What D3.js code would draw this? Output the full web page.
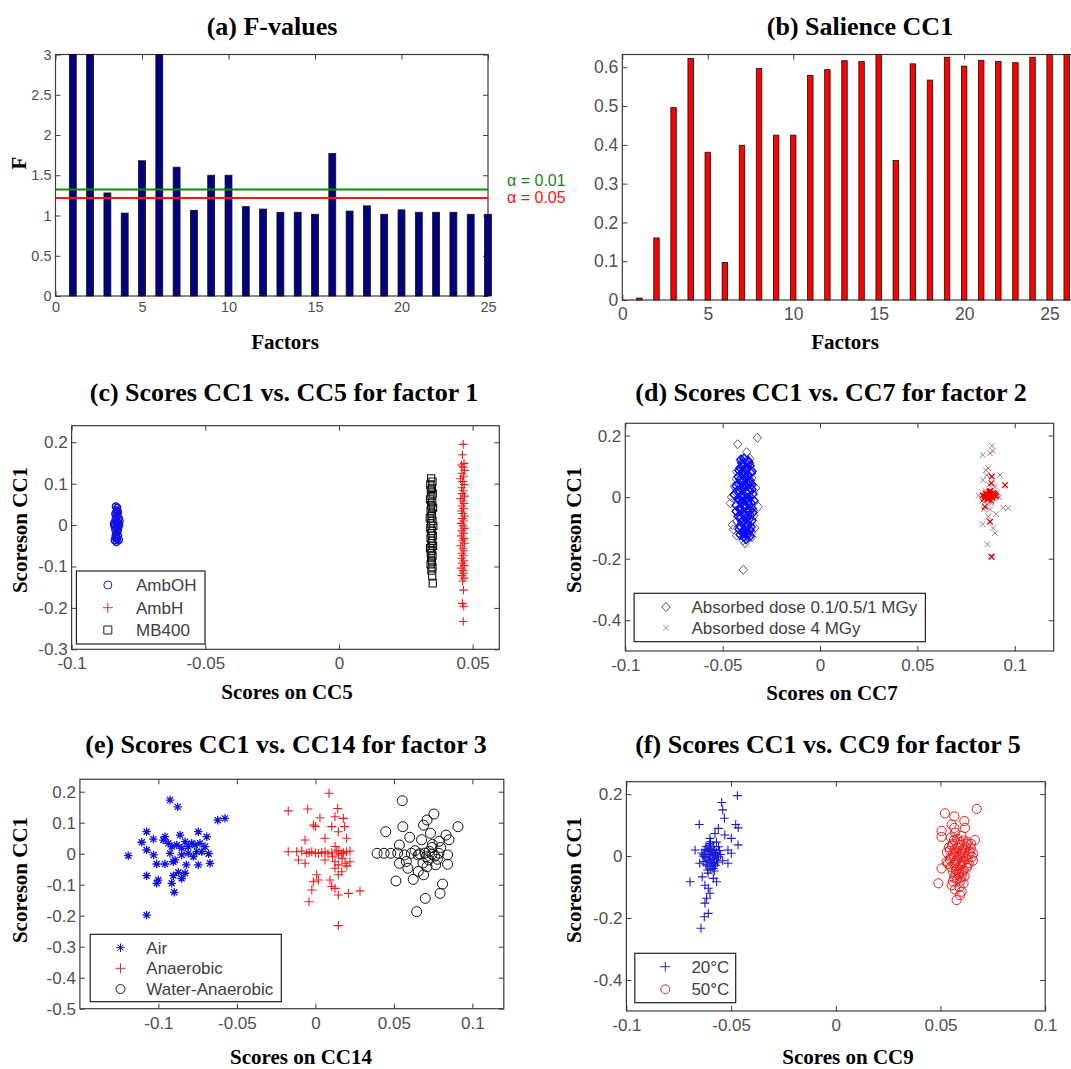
<!DOCTYPE html>
<html><head><meta charset="utf-8">
<script src="https://cdn.jsdelivr.net/npm/d3@7"></script>
<style>body{margin:0;background:#fff}svg{display:block}</style>
</head><body><svg id="c" width="1071" height="1069"></svg>
<script>
// ---------------- DATA ----------------
const factorsA = [1,2,3,4,5,6,7,8,9,10,11,12,13,14,15,16,17,18,19,20,21,22,23,24,25];
const fValues = [3.0,3.0,1.28,1.03,1.68,3.0,1.60,1.065,1.50,1.50,1.11,1.08,1.04,1.04,1.015,1.77,1.055,1.12,1.015,1.07,1.04,1.04,1.04,1.015,1.015];
const alphaLevels = [{label:"\u03b1 = 0.01", value:1.322, color:"#118811"},{label:"\u03b1 = 0.05", value:1.218, color:"#ff1010"}];
const factorsB = [1,2,3,4,5,6,7,8,9,10,11,12,13,14,15,16,17,18,19,20,21,22,23,24,25,26];
const salience = [0.005,0.16,0.496,0.623,0.381,0.097,0.399,0.597,0.425,0.425,0.579,0.594,0.617,0.615,0.633,0.36,0.609,0.567,0.626,0.603,0.618,0.615,0.612,0.626,0.633,0.633];

const ticksA_x = [0,5,10,15,20,25], ticksA_y = [0,0.5,1,1.5,2,2.5,3];
const ticksB_y = [0,0.1,0.2,0.3,0.4,0.5,0.6];
const ticksC_x = [-0.1,-0.05,0,0.05], ticksC_y = [-0.3,-0.2,-0.1,0,0.1,0.2];
const ticksD_x = [-0.1,-0.05,0,0.05,0.1], ticksD_y = [-0.4,-0.2,0,0.2];
const ticksE_x = [-0.1,-0.05,0,0.05,0.1], ticksE_y = [-0.5,-0.4,-0.3,-0.2,-0.1,0,0.1,0.2];

const ambOH = [[-0.0835,0.045],[-0.0829,0.042],[-0.0832,0.036],[-0.0826,0.031],[-0.0837,0.027],[-0.0830,0.022],[-0.0823,0.017],[-0.0836,0.013],[-0.0830,0.009],[-0.0826,0.005],[-0.0838,0.002],[-0.0831,0.000],[-0.0840,-0.003],[-0.0824,-0.004],[-0.0833,-0.007],[-0.0837,-0.011],[-0.0828,-0.016],[-0.0832,-0.021],[-0.0826,-0.026],[-0.0836,-0.030],[-0.0830,-0.034],[-0.0839,-0.037],[-0.0823,-0.036],[-0.0832,-0.041],[-0.0820,0.010],[-0.0833,0.029],[-0.0827,-0.012],[-0.0842,0.004],[-0.0822,0.001],[-0.0834,0.018],[-0.0829,-0.002],[-0.0835,-0.024],[-0.0828,0.033],[-0.0831,-0.031]];
const ambH = [[0.0465,0.195],[0.0462,0.170],[0.0468,0.149],[0.0458,0.145],[0.0464,0.140],[0.0470,0.132],[0.0460,0.125],[0.0466,0.118],[0.0455,0.112],[0.0463,0.105],[0.0469,0.098],[0.0459,0.090],[0.0465,0.083],[0.0461,0.076],[0.0470,0.070],[0.0456,0.064],[0.0464,0.058],[0.0468,0.052],[0.0460,0.046],[0.0466,0.040],[0.0458,0.034],[0.0463,0.028],[0.0470,0.022],[0.0461,0.016],[0.0466,0.010],[0.0457,0.004],[0.0464,-0.002],[0.0469,-0.008],[0.0460,-0.014],[0.0465,-0.020],[0.0458,-0.026],[0.0467,-0.032],[0.0462,-0.038],[0.0470,-0.044],[0.0456,-0.050],[0.0464,-0.056],[0.0468,-0.062],[0.0460,-0.068],[0.0465,-0.074],[0.0459,-0.080],[0.0467,-0.086],[0.0462,-0.092],[0.0469,-0.098],[0.0457,-0.104],[0.0464,-0.110],[0.0466,-0.116],[0.0460,-0.122],[0.0468,-0.128],[0.0463,-0.135],[0.0466,-0.157],[0.0462,-0.189],[0.0467,-0.196],[0.0465,-0.233]];
const mb400 = [[0.0345,0.113],[0.0350,0.105],[0.0342,0.098],[0.0348,0.090],[0.0344,0.084],[0.0351,0.076],[0.0346,0.070],[0.0341,0.062],[0.0349,0.055],[0.0345,0.048],[0.0352,0.042],[0.0343,0.035],[0.0348,0.028],[0.0346,0.022],[0.0340,0.016],[0.0350,0.010],[0.0345,0.004],[0.0353,-0.002],[0.0342,-0.008],[0.0348,-0.014],[0.0345,-0.020],[0.0351,-0.026],[0.0343,-0.032],[0.0349,-0.038],[0.0346,-0.044],[0.0352,-0.050],[0.0341,-0.056],[0.0347,-0.062],[0.0344,-0.068],[0.0350,-0.074],[0.0345,-0.080],[0.0348,-0.088],[0.0343,-0.095],[0.0350,-0.102],[0.0346,-0.110],[0.0349,-0.122],[0.0351,-0.141]];

const doseLowOuter = [[-0.0423,0.172],[-0.0322,0.193],[-0.0377,0.146],[-0.0394,-0.236],[-0.0428,0.083],[-0.0454,0.0],[-0.0317,-0.031],[-0.035,0.062],[-0.0428,-0.08],[-0.045,-0.09],[-0.0352,-0.115],[-0.035,-0.13],[-0.0385,-0.15],[-0.0428,-0.125],[-0.041,0.12],[-0.036,0.125],[-0.044,0.035],[-0.033,0.03],[-0.046,-0.02],[-0.034,-0.06],[-0.0395,-0.14],[-0.037,0.105],[-0.0335,-0.1],[-0.0445,-0.105],[-0.043,0.06]];
const doseLowCore = [[-0.039,0.125],[-0.037,0.118],[-0.040,0.110],[-0.036,0.102],[-0.041,0.095],[-0.038,0.090],[-0.035,0.084],[-0.040,0.078],[-0.037,0.072],[-0.042,0.066],[-0.038,0.060],[-0.036,0.054],[-0.040,0.048],[-0.037,0.042],[-0.043,0.036],[-0.039,0.030],[-0.035,0.025],[-0.041,0.019],[-0.038,0.014],[-0.044,0.008],[-0.040,0.004],[-0.036,0.000],[-0.042,-0.004],[-0.038,-0.008],[-0.034,-0.012],[-0.040,-0.016],[-0.037,-0.021],[-0.043,-0.026],[-0.039,-0.031],[-0.035,-0.036],[-0.041,-0.041],[-0.037,-0.046],[-0.040,-0.052],[-0.036,-0.058],[-0.042,-0.063],[-0.038,-0.069],[-0.035,-0.075],[-0.040,-0.081],[-0.037,-0.088],[-0.041,-0.094],[-0.038,-0.100],[-0.036,-0.107],[-0.040,-0.113],[-0.037,-0.120],[-0.039,-0.128],[-0.038,-0.136],[-0.0425,0.020],[-0.0345,0.010],[-0.0395,0.055],[-0.0385,-0.060],
  [-0.0405,0.122],[-0.0365,0.112],[-0.0395,0.104],[-0.0375,0.096],[-0.0415,0.086],[-0.0355,0.078],[-0.0390,0.068],[-0.0410,0.058],[-0.0360,0.046],[-0.0385,0.038],[-0.0405,0.028],[-0.0365,0.018],[-0.0395,0.009],[-0.0375,-0.002],[-0.0415,-0.010],[-0.0355,-0.019],[-0.0390,-0.027],[-0.0410,-0.035],[-0.0360,-0.044],[-0.0385,-0.055],[-0.0405,-0.066],[-0.0365,-0.072],[-0.0395,-0.078],[-0.0375,-0.093],[-0.0415,-0.104],[-0.0355,-0.097],[-0.0390,-0.110],[-0.0410,-0.122],[-0.0360,-0.127],[-0.0385,-0.118],[-0.0420,0.044],[-0.0350,0.040],[-0.0430,-0.046],[-0.0345,-0.050],[-0.0380,0.016],[-0.0400,-0.004],[-0.0370,-0.012],[-0.0385,0.080],[-0.0380,-0.085],[-0.0400,0.100]];
const doseHighOuter = [[0.0882,0.167],[0.0835,0.137],[0.0887,0.150],[0.0873,0.1425],[0.0864,0.094],[0.0856,0.072],[0.0924,0.072],[0.0838,0.0557],[0.0899,0.034],[0.0941,-0.034],[0.0967,-0.036],[0.0841,-0.04],[0.0873,-0.04],[0.0864,-0.0635],[0.0835,-0.088],[0.0899,-0.117],[0.086,-0.153],[0.089,-0.1],[0.0815,0.005],[0.092,0.0],[0.085,0.02],[0.088,-0.02],[0.0845,-0.015],[0.091,0.015],[0.0868,0.04],[0.0905,-0.055],[0.0852,0.088],[0.0832,-0.012],[0.0876,-0.193]];
const doseHighCore = [[0.0882,0.067],[0.095,0.039],[0.0875,0.02],[0.0855,0.01],[0.087,0.005],[0.089,0.008],[0.0865,0.0],[0.0885,-0.003],[0.0845,0.004],[0.0905,0.003],[0.0878,0.012],[0.086,-0.006],[0.0847,-0.031],[0.0873,-0.08],[0.0882,-0.194],[0.0835,0.006],[0.0895,0.01],[0.088,0.045],[0.0858,0.003],[0.0872,0.009],[0.0885,0.0],[0.0898,0.005],[0.0862,-0.008],[0.0878,-0.012],[0.0890,0.014],[0.0850,0.012],[0.0868,0.018],[0.0842,-0.004]];

const air = [[-0.0926,0.173],[-0.0877,0.151],[-0.0622,0.108],[-0.0576,0.114],[-0.1192,-0.0065],[-0.1075,-0.198],[-0.1075,0.071],[-0.1106,0.037],[-0.1032,0.047],[-0.1075,0.012],[-0.103,-0.004],[-0.0958,0.055],[-0.0862,0.06],[-0.0746,0.071],[-0.0692,0.0548],[-0.083,0.039],[-0.0915,0.023],[-0.0767,0.028],[-0.0724,0.0065],[-0.068,0.0],[-0.1011,-0.0332],[-0.0958,-0.0332],[-0.0905,-0.026],[-0.0822,-0.036],[-0.0746,-0.036],[-0.0671,-0.031],[-0.0873,-0.06],[-0.083,-0.063],[-0.0905,-0.071],[-0.1075,-0.071],[-0.1001,-0.085],[-0.1011,-0.0955],[-0.0915,-0.0955],[-0.0899,-0.1245],[-0.0852,-0.08],[-0.0969,0.044],[-0.0937,0.0335],[-0.0883,0.028],[-0.0852,0.0174],[-0.081,0.023],[-0.0788,0.0335],[-0.0735,0.0335],[-0.0703,0.023],[-0.0852,-0.004],[-0.081,0.0012],[-0.0777,-0.0095],[-0.0894,-0.02],[-0.0926,0.001],[-0.0756,0.0065]];
const anaerobic = [[0.0087,0.195],[-0.0173,0.138],[-0.0049,0.144],[0.0142,0.146],[0.0125,0.119],[0.0029,0.116],[-0.0013,0.0926],[0.0,0.088],[0.0178,0.114],[0.0104,0.0874],[0.0186,0.0875],[0.0146,0.071],[0.0199,0.0497],[0.0061,0.0497],[-0.0066,0.044],[-0.0173,0.0065],[-0.0119,0.0065],[-0.0087,0.0086],[-0.0055,0.0011],[-0.0023,0.0065],[0.0019,0.0011],[0.0061,0.0065],[0.0104,0.0033],[0.0136,0.0086],[0.0168,0.0011],[0.0199,0.0065],[0.022,0.0086],[0.0125,0.023],[0.0146,-0.004],[-0.0108,-0.0203],[-0.0066,-0.031],[0.0061,-0.0203],[0.0125,-0.026],[0.0146,-0.036],[0.0189,-0.031],[0.022,-0.026],[0.0125,-0.047],[0.0168,-0.058],[0.0146,-0.068],[0.0008,-0.068],[-0.0013,-0.0903],[0.0019,-0.085],[0.0093,-0.085],[-0.0023,-0.117],[0.0104,-0.106],[0.0125,-0.112],[0.0146,-0.133],[0.0211,-0.128],[0.0284,-0.12],[-0.0041,-0.155],[0.0146,-0.232],[-0.004,0.004],[0.008,0.0],[0.004,0.004],[0.018,0.003],[0.015,0.01],[0.011,-0.01],[0.017,-0.015],[0.02,-0.04],[0.0,0.002]];
const waterAnaerobic = [[0.0553,0.171],[0.0755,0.128],[0.0711,0.1087],[0.0908,0.0871],[0.0448,0.071],[0.0557,0.0871],[0.0689,0.092],[0.0601,0.053],[0.0733,0.066],[0.0832,0.06],[0.0676,0.045],[0.0788,0.04],[0.0535,0.028],[0.0851,0.045],[0.0393,0.0013],[0.0437,0.0013],[0.048,0.0013],[0.0524,0.002],[0.0568,-0.004],[0.0611,0.0013],[0.0655,-0.004],[0.0699,0.002],[0.0743,-0.002],[0.0787,0.0013],[0.0842,-0.004],[0.0535,-0.031],[0.0589,-0.047],[0.0711,-0.042],[0.0766,-0.036],[0.0842,-0.034],[0.0655,-0.057],[0.0623,-0.083],[0.0689,-0.068],[0.0513,-0.088],[0.081,-0.098],[0.0794,-0.128],[0.07,-0.144],[0.0645,-0.187],[0.0743,0.02],[0.0579,-0.025],[0.0722,-0.02],[0.0777,-0.018],[0.0798,0.02],[0.0665,0.0],[0.0725,0.008],[0.076,-0.008],[0.0705,-0.01],[0.0635,0.01],[0.0745,0.03],[0.0685,-0.03]];

const temp20 = [[-0.047,0.195],[-0.0545,0.173],[-0.054,0.149],[-0.0532,0.122],[-0.0652,0.102],[-0.0478,0.102],[-0.0466,0.091],[-0.0561,0.0895],[-0.0577,0.073],[-0.053,0.068],[-0.0601,0.057],[-0.0499,0.057],[-0.0467,0.036],[-0.0672,0.0195],[-0.0515,0.0195],[-0.0499,0.009],[-0.065,-0.023],[-0.0515,-0.023],[-0.0638,-0.067],[-0.0585,-0.072],[-0.0696,-0.083],[-0.0569,-0.083],[-0.0625,-0.094],[-0.0609,-0.104],[-0.0601,-0.12],[-0.0617,-0.136],[-0.0625,-0.152],[-0.0609,-0.185],[-0.0628,-0.196],[-0.0644,-0.233],[-0.062,0.03],[-0.06,0.025],[-0.058,0.02],[-0.061,0.015],[-0.059,0.01],[-0.057,0.012],[-0.063,0.005],[-0.06,0.0],[-0.058,0.002],[-0.056,-0.003],[-0.062,-0.005],[-0.059,-0.01],[-0.061,-0.015],[-0.057,-0.012],[-0.06,-0.02],[-0.058,-0.025],[-0.062,-0.028],[-0.059,-0.035],[-0.06,-0.042],[-0.055,0.005],[-0.064,0.01],[-0.056,0.03],[-0.06,0.04],[-0.058,-0.048],[-0.061,-0.055],[-0.054,-0.015],[-0.063,-0.018],[-0.057,0.045],
  [-0.0605,0.035],[-0.0585,0.03],[-0.0615,0.022],[-0.0595,0.017],[-0.0575,0.007],[-0.0605,0.006],[-0.0625,-0.002],[-0.0585,-0.007],[-0.0565,0.0],[-0.0605,-0.012],[-0.0595,-0.022],[-0.0615,-0.032],[-0.0575,-0.03],[-0.0585,-0.04],[-0.0635,0.0],[-0.0555,0.018],[-0.0565,-0.02],[-0.0625,0.02],[-0.0598,0.046],[-0.0612,-0.045]];
const temp50 = [[0.0673,0.152],[0.0521,0.138],[0.0566,0.128],[0.0614,0.113],[0.0553,0.102],[0.0505,0.081],[0.0617,0.091],[0.0566,0.091],[0.0505,0.062],[0.0664,0.052],[0.0656,0.009],[0.049,-0.088],[0.0553,-0.094],[0.0601,-0.115],[0.0577,-0.142],[0.0593,-0.126],[0.0505,-0.04],[0.055,0.06],[0.058,0.055],[0.061,0.05],[0.063,0.045],[0.056,0.04],[0.059,0.035],[0.062,0.03],[0.054,0.028],[0.057,0.022],[0.060,0.018],[0.064,0.015],[0.053,0.012],[0.056,0.008],[0.059,0.004],[0.062,0.0],[0.065,-0.003],[0.055,-0.005],[0.058,-0.01],[0.061,-0.015],[0.053,-0.018],[0.057,-0.022],[0.060,-0.027],[0.063,-0.03],[0.055,-0.035],[0.058,-0.04],[0.061,-0.045],[0.056,-0.05],[0.059,-0.055],[0.057,-0.062],[0.060,-0.068],[0.058,-0.075],[0.056,-0.082],[0.061,-0.088],[0.059,-0.1],[0.057,-0.108],[0.060,0.065],[0.057,0.075],
  [0.0565,0.052],[0.0595,0.045],[0.0625,0.038],[0.0555,0.034],[0.0585,0.026],[0.0615,0.022],[0.0645,0.025],[0.0545,0.018],[0.0575,0.012],[0.0605,0.008],[0.0635,0.006],[0.0565,-0.001],[0.0595,-0.005],[0.0625,-0.01],[0.0545,-0.012],[0.0575,-0.016],[0.0605,-0.02],[0.0635,-0.022],[0.0565,-0.028],[0.0595,-0.033],[0.0625,-0.038],[0.0575,-0.045],[0.0605,-0.052],[0.0585,-0.06],[0.0615,-0.065],[0.0565,-0.07],[0.0595,-0.08],[0.0645,0.04],[0.0655,-0.015],[0.0535,-0.025]];

// ---------------- DRAWING ----------------
const svg = d3.select('#c');
const SERIF = '"Liberation Serif","Times New Roman",serif';
const SANS = '"Liberation Sans",Arial,sans-serif';
const TICKC = '#505050', FRAMEC = '#3c3c3c';
const fmt = d => String(+d.toFixed(4));

function panel(c) {
  const x = d3.scaleLinear().domain(c.xd).range([c.L, c.R]);
  const y = d3.scaleLinear().domain(c.yd).range([c.B, c.T]);
  const FR = c.FR || c.R;
  const g = svg.append('g');
  const style = (sel, fs) => {
    sel.select('.domain').remove();
    sel.selectAll('line').attr('stroke', FRAMEC);
    sel.selectAll('text').attr('fill', TICKC).style('font-family', SANS).style('font-size', fs + 'px');
  };
  const noText = sel => sel.selectAll('text').remove();
  g.append('g').attr('transform', `translate(0,${c.B})`)
    .call(d3.axisBottom(x).tickValues(c.xt).tickSize(-5).tickPadding(c.padX).tickFormat(fmt)).call(s => style(s, c.fs));
  g.append('g').attr('transform', `translate(0,${c.T})`)
    .call(d3.axisTop(x).tickValues(c.xt).tickSize(-5)).call(s => style(s, c.fs)).call(noText);
  g.append('g').attr('transform', `translate(${c.L},0)`)
    .call(d3.axisLeft(y).tickValues(c.yt).tickSize(-5).tickPadding(4).tickFormat(fmt)).call(s => style(s, c.fs));
  g.append('g').attr('transform', `translate(${FR},0)`)
    .call(d3.axisRight(y).tickValues(c.yt).tickSize(-5)).call(s => style(s, c.fs)).call(noText);
  g.append('rect').attr('x', c.L).attr('y', c.T).attr('width', FR - c.L).attr('height', c.B - c.T)
    .attr('fill', 'none').attr('stroke', FRAMEC).attr('stroke-width', 1.2);
  svg.append('text').attr('x', c.tx).attr('y', c.ty).attr('text-anchor', 'middle')
    .style('font-family', SERIF).style('font-weight', 'bold').style('font-size', '26px').attr('fill', '#000').text(c.title);
  svg.append('text').attr('x', c.xlx).attr('y', c.xly).attr('text-anchor', 'middle')
    .style('font-family', SERIF).style('font-weight', 'bold').style('font-size', '21px').attr('fill', '#000').text(c.xlabel);
  if (c.ylabel) {
    svg.append('text').attr('transform', `translate(${c.ylx},${c.yly}) rotate(-90)`).attr('text-anchor', 'middle')
      .style('font-family', SERIF).style('font-weight', 'bold').style('font-size', '21px').attr('fill', '#000').text(c.ylabel);
  }
  const plot = svg.append('g');
  return {x, y, g: plot};
}

function markerPath(type, r) {
  switch (type) {
    case 'plus': return `M${-r},0H${r}M0,${-r}V${r}`;
    case 'x': return `M${-r},${-r}L${r},${r}M${-r},${r}L${r},${-r}`;
    case 'star': { const k = r * 0.72; return `M${-r},0H${r}M0,${-r}V${r}M${-k},${-k}L${k},${k}M${-k},${k}L${k},${-k}`; }
    case 'diamond': return `M0,${-r * 1.1}L${r},0L0,${r * 1.1}L${-r},0Z`;
    case 'square': return `M${-r},${-r}H${r}V${r}H${-r}Z`;
    case 'circle': return d3.symbol(d3.symbolCircle, Math.PI * r * r)();
  }
}
function scatter(p, data, type, r, color, sw) {
  p.g.append('g').selectAll('path').data(data).join('path')
    .attr('transform', d => `translate(${p.x(d[0])},${p.y(d[1])})`)
    .attr('d', markerPath(type, r)).attr('fill', 'none').attr('stroke', color).attr('stroke-width', sw || 1);
}
function legend(box, entries, mx, tx) {
  svg.append('rect').attr('x', box[0]).attr('y', box[1]).attr('width', box[2] - box[0]).attr('height', box[3] - box[1])
    .attr('fill', '#fff').attr('stroke', '#202020').attr('stroke-width', 1.2);
  entries.forEach(e => {
    svg.append('path').attr('transform', `translate(${mx},${e.y})`).attr('d', markerPath(e.type, e.r))
      .attr('fill', 'none').attr('stroke', e.color).attr('stroke-width', 1);
    svg.append('text').attr('x', tx).attr('y', e.y + 6).style('font-family', SANS).style('font-size', '17px')
      .attr('fill', '#404040').text(e.label);
  });
}

// (a) F-values
{
  const p = panel({L:55.5, R:488, T:54.5, B:296, xd:[0,25], yd:[0,3], xt:ticksA_x, yt:ticksA_y, fs:14.5, padX:6,
    title:'(a) F-values', tx:272, ty:35, xlabel:'Factors', xlx:285, xly:349, ylabel:'F', ylx:26, yly:163});
  const bw = (p.x(1) - p.x(0)) * 0.4;
  p.g.selectAll('rect').data(factorsA).join('rect')
    .attr('x', (d) => p.x(d) - bw / 2).attr('y', (d, i) => p.y(fValues[i]))
    .attr('width', bw).attr('height', (d, i) => p.y(0) - p.y(fValues[i]))
    .attr('fill', '#000080').attr('stroke', '#111').attr('stroke-width', 0.8);
  alphaLevels.forEach((a, i) => {
    p.g.append('line').attr('x1', p.x(0)).attr('x2', p.x(25)).attr('y1', p.y(a.value)).attr('y2', p.y(a.value))
      .attr('stroke', a.color).attr('stroke-width', 2);
    svg.append('text').attr('x', 507).attr('y', p.y(a.value) - 3.5 + (i === 0 ? 0 : 9))
      .style('font-family', SANS).style('font-size', '16px').attr('fill', a.color).text(a.label);
  });
}
// (b) Salience
{
  const p = panel({L:622.3, R:1049.6, FR:1076, T:54.5, B:300, xd:[0,25], yd:[0,0.633], xt:ticksA_x, yt:ticksB_y, fs:17.5, padX:8,
    title:'(b) Salience CC1', tx:860, ty:35, xlabel:'Factors', xlx:845, xly:349});
  const bw = (p.x(1) - p.x(0)) * 0.32;
  p.g.selectAll('rect').data(factorsB).join('rect')
    .attr('x', d => p.x(d) - bw / 2).attr('y', (d, i) => p.y(salience[i]))
    .attr('width', bw).attr('height', (d, i) => p.y(0) - p.y(salience[i]))
    .attr('fill', '#ff0000').attr('stroke', '#111').attr('stroke-width', 0.8);
}
// (c)
{
  const p = panel({L:71.6, R:499.3, T:425.7, B:649.3, xd:[-0.1,0.06], yd:[-0.3,0.24], xt:ticksC_x, yt:ticksC_y, fs:17, padX:8,
    title:'(c) Scores CC1 vs. CC5 for factor 1', tx:284, ty:401, xlabel:'Scores on CC5', xlx:287, xly:699, ylabel:'Scoreson CC1', ylx:27, yly:530});
  scatter(p, ambOH, 'circle', 3.4, '#1010e0', 1.4);
  scatter(p, mb400, 'square', 3.6, '#111', 1.1);
  scatter(p, ambH, 'plus', 4.3, '#ee1c1c', 1.1);
  legend([76.4, 571, 205, 644], [
    {type:'circle', r:4, color:'#2020b0', label:'AmbOH', y:585},
    {type:'plus', r:5, color:'#d03030', label:'AmbH', y:607.7},
    {type:'square', r:4, color:'#202020', label:'MB400', y:630}], 107.8, 136);
}
// (d)
{
  const p = panel({L:625.3, R:1053.7, T:423.3, B:651, xd:[-0.1,0.12], yd:[-0.5,0.24], xt:ticksD_x, yt:ticksD_y, fs:17, padX:8,
    title:'(d) Scores CC1 vs. CC7 for factor 2', tx:831, ty:401, xlabel:'Scores on CC7', xlx:832, xly:700, ylabel:'Scoreson CC1', ylx:581, yly:530});
  scatter(p, doseLowOuter, 'diamond', 4.2, '#5a5a6a', 1);
  scatter(p, doseLowCore, 'diamond', 4.2, '#0a0aff', 1.4);
  scatter(p, doseHighOuter, 'x', 2.8, '#a07878', 1);
  scatter(p, doseHighCore, 'x', 2.8, '#ee0000', 1.3);
  legend([634.1, 593.3, 925.4, 641.7], [
    {type:'diamond', r:4.2, color:'#555560', label:'Absorbed dose 0.1/0.5/1 MGy', y:607},
    {type:'x', r:2.8, color:'#b08888', label:'Absorbed dose 4 MGy', y:627.7}], 666, 691.4);
}
// (e)
{
  const p = panel({L:79.9, R:503.8, T:779.3, B:1008.7, xd:[-0.15,0.12], yd:[-0.5,0.24], xt:ticksE_x, yt:ticksE_y, fs:17, padX:8,
    title:'(e) Scores CC1 vs. CC14 for factor 3', tx:286, ty:753, xlabel:'Scores on CC14', xlx:301, xly:1064, ylabel:'Scoreson CC1', ylx:27, yly:880});
  scatter(p, air, 'star', 4.2, '#1010e0', 1.3);
  scatter(p, anaerobic, 'plus', 4.5, '#ee1c1c', 1.1);
  scatter(p, waterAnaerobic, 'circle', 5, '#111', 1);
  legend([90.2, 934.3, 281.3, 1001.7], [
    {type:'star', r:4.2, color:'#1010e0', label:'Air', y:947.7},
    {type:'plus', r:5, color:'#d03030', label:'Anaerobic', y:968.3},
    {type:'circle', r:4.5, color:'#202020', label:'Water-Anaerobic', y:989}], 120.5, 146.3);
}
// (f)
{
  const p = panel({L:626.4, R:1045.2, T:781.7, B:1011, xd:[-0.1,0.1], yd:[-0.5,0.24], xt:ticksD_x, yt:ticksD_y, fs:17, padX:8,
    title:'(f) Scores CC1 vs. CC9 for factor 5', tx:828, ty:753, xlabel:'Scores on CC9', xlx:848, xly:1064, ylabel:'Scoreson CC1', ylx:581, yly:880});
  scatter(p, temp20, 'plus', 4.4, '#1a1ad0', 1.1);
  scatter(p, temp50, 'circle', 4.6, '#ee1c1c', 1);
  legend([634.8, 953.3, 735.7, 1002.7], [
    {type:'plus', r:5, color:'#2a2ab0', label:'20°C', y:966.7},
    {type:'circle', r:4.5, color:'#c03040', label:'50°C', y:989.3}], 665.3, 691.4);
}
</script></body></html>
